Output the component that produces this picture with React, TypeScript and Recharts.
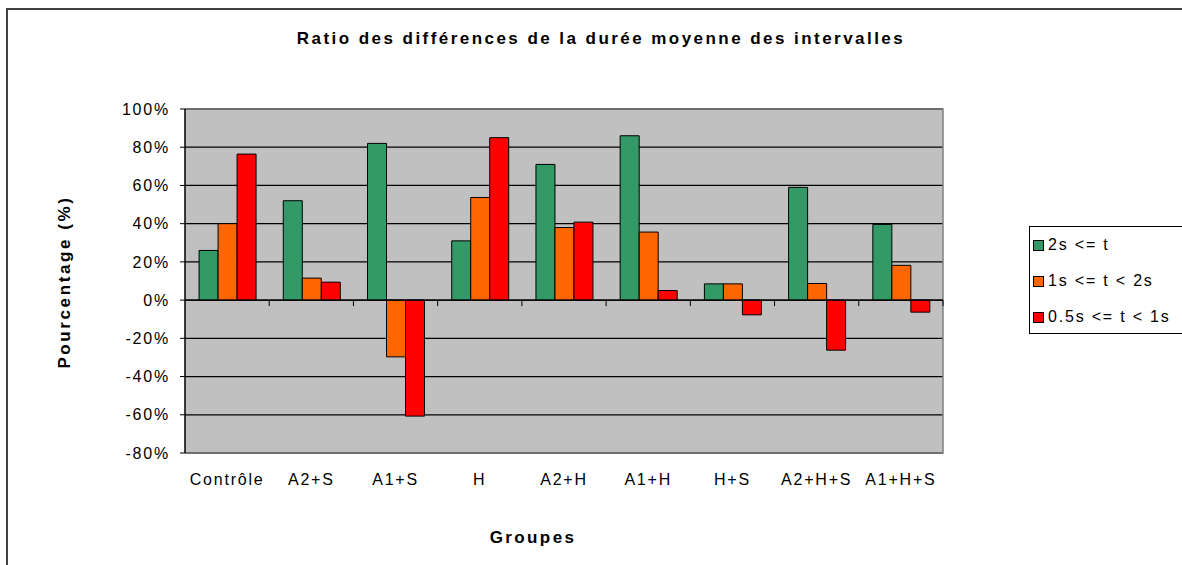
import React from "react";
import {
  BarChart,
  Bar,
  XAxis,
  YAxis,
  CartesianGrid,
  ReferenceLine,
  ReferenceArea,
} from "recharts";

const categories = ["Contrôle", "A2+S", "A1+S", "H", "A2+H", "A1+H", "H+S", "A2+H+S", "A1+H+S"];
const series2s = [26, 52, 82, 31, 71, 86, 8.5, 59, 39.6];
const series1s = [40, 11.5, -29.7, 53.7, 38, 35.6, 8.5, 8.7, 18.2];
const series05s = [76.4, 9.4, -60.7, 85, 40.8, 5, -7.7, -26.2, -6.3];
const yTicks = [-80, -60, -40, -20, 0, 20, 40, 60, 80, 100];
const seriesKeys = ["a", "b", "c"];
const seriesNames = ["2s <= t", "1s <= t < 2s", "0.5s <= t < 1s"];
const seriesColors = ["#339966", "#FF6600", "#FF0000"];

const data = categories.map((name, i) => ({
  name,
  a: series2s[i],
  b: series1s[i],
  c: series05s[i],
}));

const FONT = "'Liberation Sans', Arial, sans-serif";

const ZeroLine = (props: any) => {
  const { x1, x2, y1 } = props;
  const n = categories.length;
  const step = (x2 - x1) / n;
  const ticks = [];
  for (let i = 1; i <= n; i++) {
    const x = x1 + step * i;
    ticks.push(<line key={i} x1={x} x2={x} y1={y1} y2={y1 + 6} stroke="#000" strokeWidth={1} />);
  }
  return (
    <g>
      <line x1={x1} x2={x2} y1={y1} y2={y1} stroke="#000" strokeWidth={1.2} />
      {ticks}
    </g>
  );
};

const PlotBorder = (props: any) => {
  const { x, y, width, height } = props;
  return (
    <path
      d={`M${x},${y} L${x + width},${y} L${x + width},${y + height} L${x},${y + height}`}
      fill="none"
      stroke="#808080"
      strokeWidth={1.5}
    />
  );
};

const LegendBox = () => (
  <div
    style={{
      position: "absolute",
      left: 1029,
      top: 226,
      border: "1px solid #000",
      background: "#fff",
      width: 160,
      height: 108,
      boxSizing: "border-box",
      fontFamily: FONT,
      fontSize: 16,
      letterSpacing: 1.8,
      color: "#000",
    }}
  >
    {seriesNames.map((name, i) => (
      <div key={i} style={{ height: 36, display: "flex", alignItems: "center", whiteSpace: "nowrap" }}>
        <span
          style={{
            display: "inline-block",
            width: 9,
            height: 9,
            border: "1px solid #000",
            background: seriesColors[i],
            marginLeft: 3,
            marginRight: 4,
          }}
        />
        <span>{name}</span>
      </div>
    ))}
  </div>
);

export default function App() {
  return (
    <div
      style={{
        position: "absolute",
        left: 0,
        top: 0,
        width: 1182,
        height: 565,
        overflow: "hidden",
        background: "#fff",
        fontFamily: FONT,
      }}
    >
      <div
        style={{
          position: "absolute",
          left: 6,
          top: 8,
          width: 1200,
          height: 600,
          border: "2px solid #404040",
          boxSizing: "border-box",
        }}
      />
      <div
        style={{
          position: "absolute",
          left: 0,
          width: 1202,
          top: 29,
          textAlign: "center",
          fontWeight: "bold",
          fontSize: 17,
          letterSpacing: 2.45,
          color: "#000",
        }}
      >
        Ratio des différences de la durée moyenne des intervalles
      </div>
      <div
        style={{
          position: "absolute",
          left: 433,
          width: 200,
          top: 528,
          textAlign: "center",
          fontWeight: "bold",
          fontSize: 17,
          letterSpacing: 2.4,
          color: "#000",
        }}
      >
        Groupes
      </div>
      <div
        style={{
          position: "absolute",
          left: 65,
          top: 282,
          transform: "translate(-50%, -50%) rotate(-90deg)",
          fontWeight: "bold",
          fontSize: 17,
          letterSpacing: 2.6,
          whiteSpace: "nowrap",
          color: "#000",
        }}
      >
        Pourcentage (%)
      </div>
      <div style={{ position: "absolute", left: 0, top: 0 }}>
        <BarChart
          width={1182}
          height={565}
          data={data}
          margin={{ top: 109, right: 239, bottom: 72, left: 125 }}
          barCategoryGap="16.7%"
          barGap={0}
        >
          <CartesianGrid vertical={false} stroke="#000" strokeWidth={1.3} fill="#C0C0C0" fillOpacity={1} />
          <XAxis
            dataKey="name"
            interval={0}
            axisLine={false}
            tickLine={false}
            tickSize={0}
            tickMargin={21}
            height={40}
            tick={{ fill: "#000", fontSize: 16, letterSpacing: 1.8, fontFamily: FONT }}
          />
          <YAxis
            type="number"
            domain={[-80, 100]}
            ticks={yTicks}
            interval={0}
            width={60}
            tickFormatter={(v: number) => `${v}%`}
            axisLine={{ stroke: "#000", strokeWidth: 1.5 }}
            tickLine={{ stroke: "#000" }}
            tickSize={5}
            tickMargin={10}
            tick={{ fill: "#000", fontSize: 16, letterSpacing: 1.8, fontFamily: FONT }}
          />
          {seriesKeys.map((k, i) => (
            <Bar
              key={k}
              dataKey={k}
              name={seriesNames[i]}
              fill={seriesColors[i]}
              stroke="#000"
              strokeWidth={1}
              isAnimationActive={false}
            />
          ))}
          <ReferenceLine y={0} shape={<ZeroLine />} />
          <ReferenceArea y1={-80} y2={100} shape={<PlotBorder />} />
        </BarChart>
      </div>
      <LegendBox />
    </div>
  );
}
